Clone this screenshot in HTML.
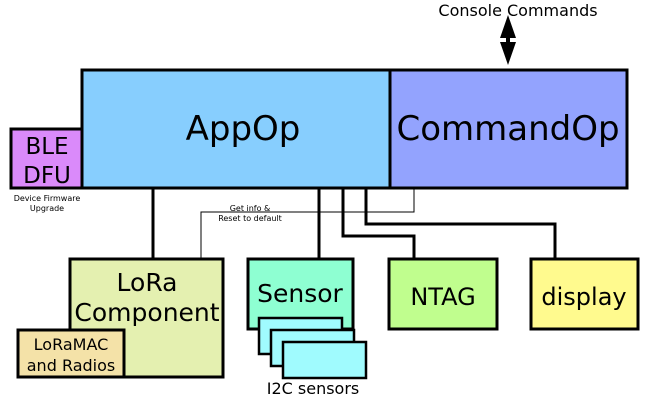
<!DOCTYPE html><html><head><style>body{margin:0;background:#fff}svg{display:block}text{font-family:"DejaVu Sans","Liberation Sans",sans-serif}</style></head><body>
<svg width="650" height="413" viewBox="0 0 650 413">
<g stroke="#000" fill="none">
<path d="M153 188V259M319 188V259M343 188V236H414V259M366 188V224H555V259" stroke-width="3"/>
<path d="M201 259V212H414V188" stroke-width="1"/>
</g>
<text x="250" y="211" font-size="8" text-anchor="middle">Get info &amp;</text>
<text x="250" y="221" font-size="8" text-anchor="middle">Reset to default</text>
<g stroke="#000" stroke-width="3">
<rect x="82" y="70" width="308" height="118" fill="#87cefe"/>
<rect x="390" y="70" width="237" height="118" fill="#93a3fe"/>
<rect x="11" y="129" width="71" height="59" fill="#da8afa"/>
<rect x="70" y="259" width="153" height="118" fill="#e4f0b0"/>
<rect x="18" y="330" width="106" height="47" fill="#f4e2a8"/>
<rect x="248" y="259" width="105" height="70" fill="#8effd2"/>
<rect x="259" y="318" width="83" height="36" fill="#a0fbfe" stroke-width="2.5"/>
<rect x="271" y="330" width="83" height="36" fill="#a0fbfe" stroke-width="2.5"/>
<rect x="283" y="342" width="83" height="36" fill="#a0fbfe" stroke-width="2.5"/>
<rect x="389" y="259" width="108" height="70" fill="#c0fe8e"/>
<rect x="531" y="259" width="107" height="70" fill="#fffa8e"/>
</g>
<path d="M508 15L500 38H516ZM508 65L500 42H516Z" fill="#000"/>
<rect x="506" y="30" width="4" height="20" fill="#000"/>
<text x="518" y="16" font-size="16" text-anchor="middle">Console Commands</text>
<text x="243" y="140" font-size="34" text-anchor="middle">AppOp</text>
<text x="508" y="140" font-size="34" text-anchor="middle">CommandOp</text>
<text x="47" y="154" font-size="23" text-anchor="middle">BLE</text>
<text x="47" y="183" font-size="23" text-anchor="middle">DFU</text>
<text x="47" y="201" font-size="8" text-anchor="middle">Device Firmware</text>
<text x="47" y="211" font-size="8" text-anchor="middle">Upgrade</text>
<text x="147" y="291" font-size="25" text-anchor="middle">LoRa</text>
<text x="147" y="321" font-size="25" text-anchor="middle">Component</text>
<text x="71" y="350" font-size="16" text-anchor="middle">LoRaMAC</text>
<text x="71" y="371" font-size="16" text-anchor="middle">and Radios</text>
<text x="300" y="302" font-size="25" text-anchor="middle">Sensor</text>
<text x="313" y="394" font-size="16" text-anchor="middle">I2C sensors</text>
<text x="443" y="305" font-size="24" text-anchor="middle">NTAG</text>
<text x="584" y="305" font-size="24" text-anchor="middle">display</text>
</svg></body></html>
